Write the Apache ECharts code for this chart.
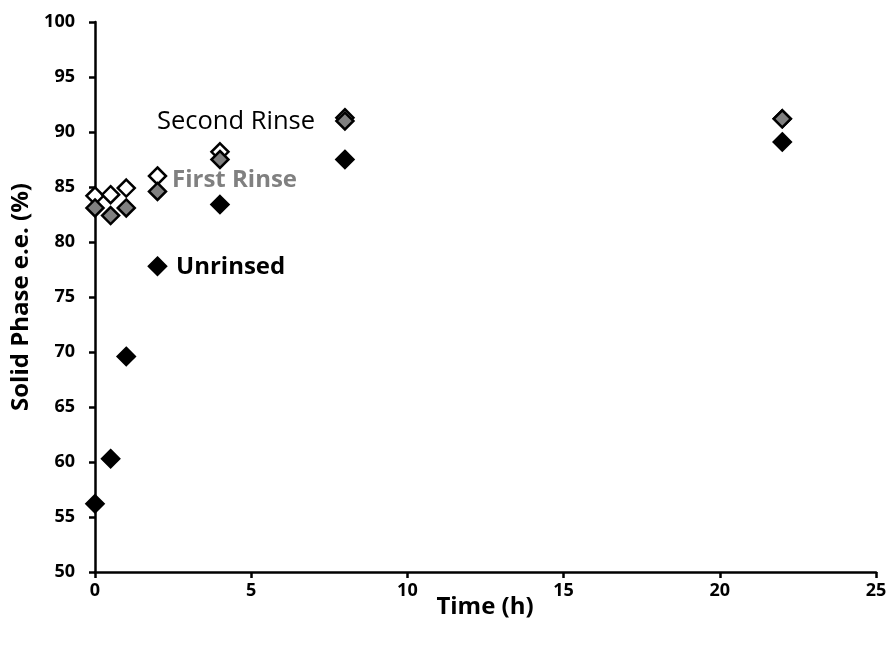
<!DOCTYPE html>
<html>
<head>
<meta charset="utf-8">
<script src="https://cdn.jsdelivr.net/npm/echarts@6/dist/echarts.min.js"></script>
<style>
  html, body { margin: 0; padding: 0; background: #fff; }
  #chart { width: 891px; height: 646px; }
</style>
</head>
<body>
<div id="chart"></div>
<script>
// Sampling times (h)
const unrinsedTime = [0, 0.5, 1, 2, 4, 8, 22];
const firstRinseTime = [0, 0.5, 1, 2, 4, 8, 22];
const secondRinseTime = [0, 0.5, 1, 2, 4, 8, 22];

// Solid phase e.e. (%)
const unrinsedEE = [56.2, 60.3, 69.6, 77.8, 83.4, 87.5, 89.1];
const firstRinseEE = [83.1, 82.4, 83.1, 84.6, 87.5, 91.0, 91.2];
const secondRinseEE = [84.2, 84.3, 84.9, 86.0, 88.2, 91.3, 91.2];

const xTicks = { min: 0, max: 25, interval: 5 };
const yTicks = { min: 50, max: 100, interval: 5 };

const FONT = '"Open Sans", "DejaVu Sans", sans-serif';

function pairs(xs, ys) {
  return xs.map((x, i) => [x, ys[i]]);
}

const chart = echarts.init(document.getElementById('chart'), null, { renderer: 'canvas' });

const axisCommon = {
  axisLine: { show: true, onZero: false, lineStyle: { color: '#000', width: 2.5 } },
  axisTick: { show: true, inside: false, length: 6, lineStyle: { color: '#000', width: 2.5 } },
  splitLine: { show: false },
  nameTextStyle: { fontFamily: FONT, fontWeight: 'bold', fontSize: 24, color: '#000' }
};

const diamond = (fill) => ({
  type: 'scatter',
  symbol: 'diamond',
  symbolSize: [17, 17],
  itemStyle: { color: fill, opacity: 1, borderColor: '#000', borderWidth: 2.5 },
  emphasis: { disabled: true }
});

chart.setOption({
  animation: false,
  backgroundColor: '#fff',
  grid: { left: 95, right: 15, top: 22, bottom: 74, containLabel: false },
  xAxis: Object.assign({}, axisCommon, {
    type: 'value',
    min: xTicks.min, max: xTicks.max, interval: xTicks.interval,
    axisLabel: { fontFamily: FONT, fontWeight: 'bold', fontSize: 18, color: '#000', margin: 10 }
  }),
  yAxis: Object.assign({}, axisCommon, {
    type: 'value',
    min: yTicks.min, max: yTicks.max, interval: yTicks.interval,
    name: 'Solid Phase e.e. (%)',
    nameLocation: 'middle',
    nameGap: 60,
    axisLabel: { fontFamily: FONT, fontWeight: 'bold', fontSize: 18, color: '#000', margin: 20 }
  }),
  series: [
    Object.assign(diamond('#000000'), { name: 'Unrinsed', data: pairs(unrinsedTime, unrinsedEE) }),
    Object.assign(diamond('#ffffff'), { name: 'Second Rinse', data: pairs(secondRinseTime, secondRinseEE) }),
    Object.assign(diamond('#808080'), { name: 'First Rinse', data: pairs(firstRinseTime, firstRinseEE) })
  ],
  graphic: [
    // x-axis title, set snug under the tick labels
    { type: 'text', x: 485, y: 607, silent: true,
      style: { text: 'Time (h)', font: 'bold 24px ' + FONT, fill: '#000', align: 'center', verticalAlign: 'middle' } },
    // series annotations
    { type: 'text', left: 157, top: 109, silent: true,
      style: { text: 'Second Rinse', font: '25.5px ' + FONT, fill: '#000' } },
    { type: 'text', left: 172, top: 168, silent: true,
      style: { text: 'First Rinse', font: 'bold 24px ' + FONT, fill: '#808080' } },
    { type: 'text', left: 176, top: 255, silent: true,
      style: { text: 'Unrinsed', font: 'bold 24px ' + FONT, fill: '#000' } }
  ]
});
</script>
</body>
</html>
